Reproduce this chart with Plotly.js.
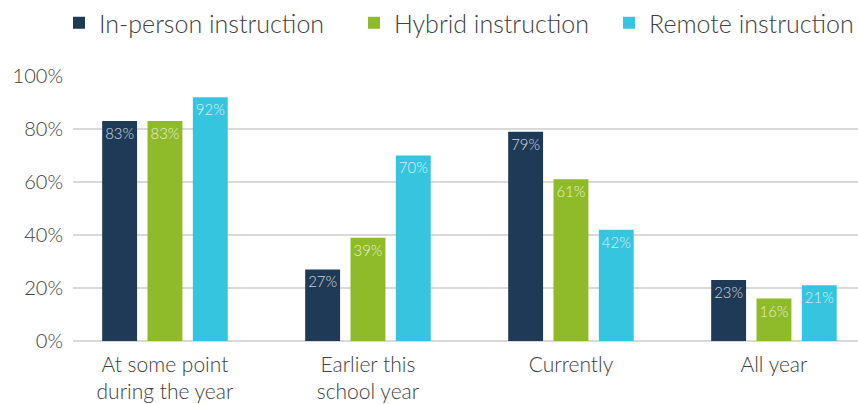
<!DOCTYPE html>
<html>
<head>
<meta charset="utf-8">
<script src="https://cdn.plot.ly/plotly-3.0.1.min.js"></script>
<style>html,body{margin:0;padding:0;background:#fff;}#chart{width:858px;height:404px;}</style>
</head>
<body>
<div id="chart"></div>
<script>
var categories = ["At some point<br>during the year", "Earlier this<br>school year", "Currently", "All year"];
var inPerson = [83, 27, 79, 23];
var hybrid = [83, 39, 61, 16];
var remote = [92, 70, 42, 21];
var seriesNames = ["In-person instruction", "Hybrid instruction", "Remote instruction"];
var colors = ["#1f3a57", "#8fba2a", "#36c5de"];
var legendIds = ["legend", "legend2", "legend3"];
var legendX = [59, 354, 609];

function mk(vals, i) {
  return {
    type: "bar",
    name: seriesNames[i],
    legend: legendIds[i],
    x: [0, 1, 2, 3],
    y: vals,
    marker: {color: colors[i], line: {width: 0}},
    text: vals.map(function(v){return v + "%";}),
    textposition: "inside",
    insidetextanchor: "end",
    textangle: 0,
    textfont: {family: "Lato, sans-serif", size: 15, weight: 300, color: "rgba(255,255,255,0.8)"},
    cliponaxis: false,
    hoverinfo: "skip"
  };
}
var data = [mk(inPerson, 0), mk(hybrid, 1), mk(remote, 2)];

function leg(px) {
  return {
    orientation: "h", xref: "container", x: px / 858, xanchor: "left",
    yref: "container", y: 1.0, yanchor: "top",
    font: {size: 25, color: "#404040", weight: 300},
    itemwidth: 30, bgcolor: "rgba(0,0,0,0)"
  };
}

var layout = {
  width: 858, height: 404,
  margin: {l: 73, r: 0, t: 76, b: 63},
  paper_bgcolor: "#fff", plot_bgcolor: "#fff",
  barmode: "group",
  bargap: 0.33,
  bargroupgap: 0.23,
  font: {family: "Lato, sans-serif", color: "#404040", weight: 300},
  showlegend: true,
  legend: leg(legendX[0]),
  legend2: leg(legendX[1]),
  legend3: leg(legendX[2]),
  xaxis: {
    range: [-0.453, 3.414],
    tickmode: "array", tickvals: [0, 1, 2, 3], ticktext: categories,
    showgrid: false, zeroline: false, showline: false, ticks: "",
    tickfont: {size: 21, color: "#404040", weight: 300},
    ticklabelstandoff: 9,
    fixedrange: true
  },
  yaxis: {
    range: [0, 100],
    tickvals: [0, 20, 40, 60, 80, 100],
    ticktext: ["0%", "20%", "40%", "60%", "80%", "100%"],
    showgrid: true, gridcolor: "#d9d9d9", gridwidth: 2,
    zeroline: true, zerolinecolor: "#d9d9d9", zerolinewidth: 2,
    showline: false, ticks: "",
    tickfont: {size: 20, color: "#404040", weight: 300},
    ticklabelstandoff: 9,
    fixedrange: true
  }
};
Plotly.newPlot("chart", data, layout, {displayModeBar: false, staticPlot: true});
</script>
</body>
</html>
